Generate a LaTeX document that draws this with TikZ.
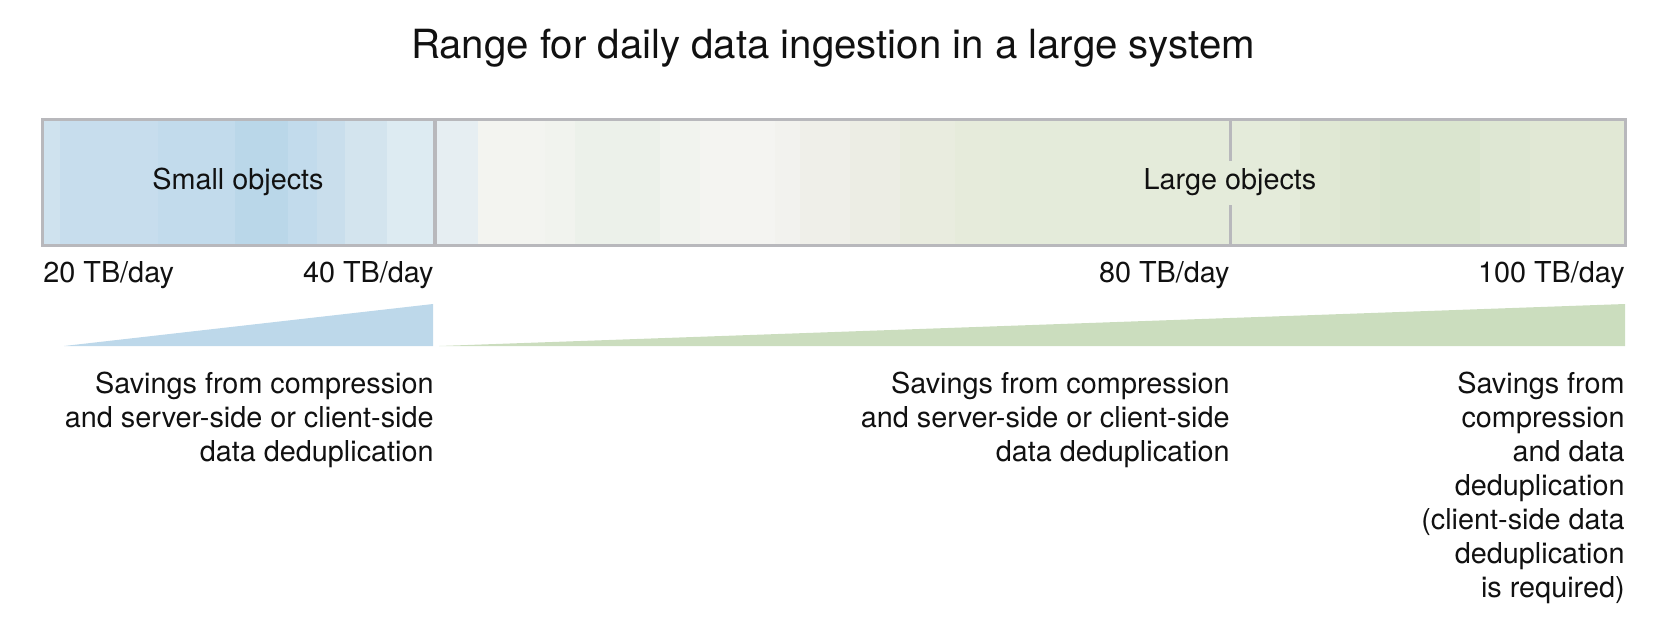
\documentclass[tikz,border=0pt]{standalone}
\usepackage{fontspec}
\setmainfont{TeX Gyre Heros}
\definecolor{textc}{HTML}{111111}
\definecolor{barborder}{HTML}{B8B8BC}
\definecolor{triblue}{HTML}{BDD8EA}
\definecolor{trigreen}{HTML}{CBDDBE}
\definecolor{s1}{HTML}{CFE2EE}
\definecolor{s2}{HTML}{C7DDED}
\definecolor{s3}{HTML}{C2DBEC}
\definecolor{s4}{HTML}{BAD7E9}
\definecolor{s5}{HTML}{C2DBEC}
\definecolor{s6}{HTML}{C9DEEC}
\definecolor{s7}{HTML}{D3E4EE}
\definecolor{s8}{HTML}{DDEBF2}
\definecolor{g1}{HTML}{E6EEF2}
\definecolor{g2}{HTML}{F3F4F0}
\definecolor{g3}{HTML}{F1F3EE}
\definecolor{g4}{HTML}{ECF1EA}
\definecolor{g5}{HTML}{F1F3EE}
\definecolor{g6}{HTML}{F4F4F1}
\definecolor{g7}{HTML}{F2F2EE}
\definecolor{g8}{HTML}{EFEFE9}
\definecolor{g9}{HTML}{ECEDE4}
\definecolor{g10}{HTML}{E9ECDF}
\definecolor{g11}{HTML}{E6EBDB}
\definecolor{g12}{HTML}{E4EBDA}
\definecolor{g13}{HTML}{E0E8D4}
\definecolor{g14}{HTML}{DDE6D1}
\definecolor{g15}{HTML}{DAE5CF}
\definecolor{g16}{HTML}{DEE7D3}
\definecolor{g17}{HTML}{E1E8D5}
\begin{document}
\begin{tikzpicture}[x=0.5pt,y=-0.5pt,
  txt/.style={inner sep=0pt, text=textc, font=\fontsize{14.4}{17}\selectfont},
  titletxt/.style={inner sep=0pt, text=textc, font=\fontsize{20.1}{24}\selectfont},
  divider/.style={draw=barborder},
  block/.style={txt, align=right, anchor=north east}]
\useasboundingbox (0,0) rectangle (1680,628);
% bar stripes
\foreach \a/\b/\c in {42/60/s1, 60/158/s2, 158/235/s3, 235/288/s4, 288/317/s5, 317/345/s6, 345/387/s7, 387/435/s8,
  435/478/g1, 478/545/g2, 545/575/g3, 575/660/g4, 660/700/g5, 700/775/g6, 775/800/g7, 800/850/g8,
  850/900/g9, 900/955/g10, 955/1000/g11, 1000/1300/g12, 1300/1340/g13, 1340/1380/g14, 1380/1480/g15,
  1480/1530/g16, 1530/1625/g17}
  \fill[\c] (\a,119) rectangle (\b,245);
\draw[barborder, line width=1.5pt] (42,119) rectangle (1625,245);
\draw[divider, line width=2pt] (435,119) -- (435,245);
\draw[divider, line width=1.5pt] (1230,119) -- (1230,161) (1230,205) -- (1230,245);
% title
\node[titletxt, anchor=base] (title) at (833,58) {Range for daily data ingestion in a large system};
% bar labels
\node[txt] (small) at (238,182) {Small objects};
\node[txt] (large) at (1230,182) {Large objects};
% scale labels
\node[txt, anchor=base west] (n20) at (43,282) {20 TB/day};
\node[txt, anchor=base east] (n40) at (434,282) {40 TB/day};
\node[txt, anchor=base east] (n80) at (1230,282) {80 TB/day};
\node[txt, anchor=base east] (n100) at (1625,282) {100 TB/day};
% wedges
\fill[triblue] (64,346) -- (433,346) -- (433,304) -- cycle;
\fill[trigreen] (439,346) -- (1625,346) -- (1625,304) -- cycle;
% savings texts
\node[block] (sav1) at (434,372) {Savings from compression\\and server-side or client-side\\data deduplication};
\node[block] (sav2) at (1230,372) {Savings from compression\\and server-side or client-side\\data deduplication};
\node[block] (sav3) at (1625,372) {Savings from\\compression\\and data\\deduplication\\(client-side data\\deduplication\\is required)};
\end{tikzpicture}
\end{document}
